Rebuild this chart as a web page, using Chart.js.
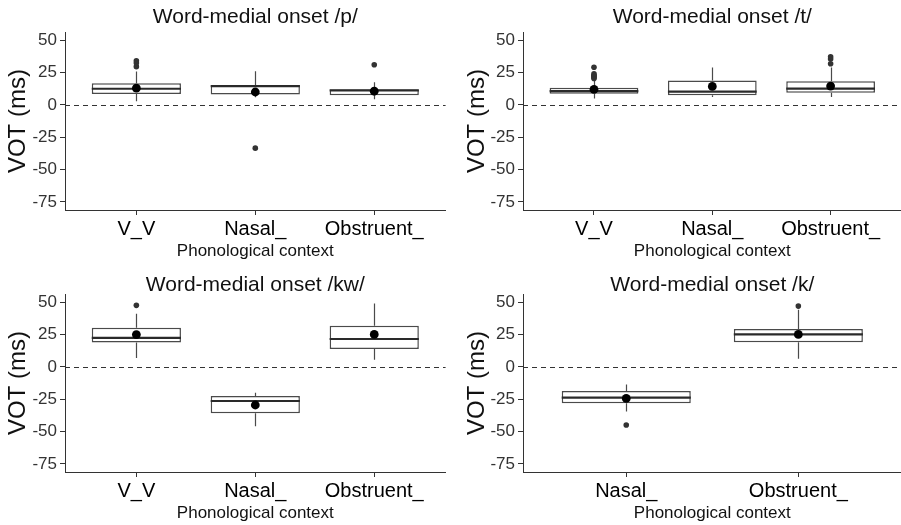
<!DOCTYPE html>
<html>
<head>
<meta charset="utf-8">
<script src="https://cdn.jsdelivr.net/npm/chart.js@4.4.1/dist/chart.umd.min.js"></script>
<style>
  html, body { margin: 0; padding: 0; background: #fff; overflow: hidden; width: 901px; height: 525px; }
  canvas { position: absolute; display: block; }
</style>
</head>
<body>
<canvas id="c1" width="450" height="262" style="left:0;top:0;width:450px;height:262px"></canvas>
<canvas id="c2" width="456" height="262" style="left:450px;top:0;width:456px;height:262px"></canvas>
<canvas id="c3" width="450" height="263" style="left:0;top:262px;width:450px;height:263px"></canvas>
<canvas id="c4" width="456" height="263" style="left:450px;top:262px;width:456px;height:263px"></canvas>
<script>
// ---------- data ----------
const TITLES = ['Word-medial onset /p/', 'Word-medial onset /t/', 'Word-medial onset /kw/', 'Word-medial onset /k/'];
const CATS_3 = ['V_V', 'Nasal_', 'Obstruent_'];
const CATS_K = ['Nasal_', 'Obstruent_'];
const Y_TICKS = [-75, -50, -25, 0, 25, 50];
const X_TITLE = 'Phonological context';
const Y_TITLE = 'VOT (ms)';

// /p/
const P_Q1   = [8.4, 8.0, 7.4];
const P_MED  = [12.5, 14.6, 11.2];
const P_Q3   = [16.8, 15.3, 12.0];
const P_LO   = [2.8, 6.0, 4.4];
const P_HI   = [25.8, 26.0, 17.6];
const P_MEAN = [13.0, 10.0, 10.6];
const P_OUT  = [[29.6, 32.4, 34.2], [-33.4], [31.1]];

// /t/
const T_Q1   = [8.7, 7.4, 9.5];
const T_MED  = [10.7, 10.3, 12.6];
const T_Q3   = [13.3, 18.9, 18.4];
const T_LO   = [4.9, 6.1, 6.1];
const T_HI   = [19.0, 29.0, 29.0];
const T_MEAN = [12.0, 14.3, 14.6];
const T_OUT  = [[20.5, 21.3, 22.1, 23.0, 24.0, 29.2], [], [31.9, 35.5, 37.3]];

// /kw/
const KW_Q1   = [18.8, -35.9, 13.8];
const KW_MED  = [22.4, -26.4, 21.5];
const KW_Q3   = [30.1, -22.6, 31.8];
const KW_LO   = [6.9, -46.0, 5.4];
const KW_HI   = [41.0, -20.0, 49.0];
const KW_MEAN = [24.9, -29.5, 25.0];
const KW_OUT  = [[47.5], [], []];

// /k/
const K_Q1   = [-28.2, 19.0];
const K_MED  = [-23.8, 25.0];
const K_Q3   = [-18.7, 29.2];
const K_LO   = [-34.6, 6.2];
const K_HI   = [-13.6, 44.0];
const K_MEAN = [-24.4, 25.0];
const K_OUT  = [[-44.9], [46.9]];

const Y_MIN = -81.25, Y_MAX = 56.25;

// ---------- drawing ----------
const FONT = "'Liberation Sans', Arial, Helvetica, sans-serif";
const AXIS_COLOR = '#333';
const BOX_COLOR = '#4a4a4a';

const boxParts = {
  id: 'boxParts',
  afterLayout(chart) {
    if (chart.titleBlock) {
      chart.titleBlock.left = chart.chartArea.left;
      chart.titleBlock.right = chart.chartArea.right;
    }
  },
  beforeDatasetsDraw(chart) {
    const { ctx, chartArea, scales: { y } } = chart;
    const py = Math.round(y.getPixelForValue(0)) + 0.5;
    ctx.save();
    ctx.setLineDash([5, 4]);
    ctx.strokeStyle = '#333';
    ctx.lineWidth = 1;
    ctx.beginPath();
    ctx.moveTo(chartArea.left, py);
    ctx.lineTo(chartArea.right, py);
    ctx.stroke();
    ctx.restore();
  },
  afterDatasetDraw(chart, args) {
    if (args.index !== 0) return;
    const ds = chart.data.datasets[0];
    const meta = chart.getDatasetMeta(0);
    const { ctx, scales: { x, y } } = chart;
    ctx.save();
    meta.data.forEach((el, i) => {
      const px = Math.round(x.getPixelForValue(i + 1)) + 0.5;
      const q1 = ds.data[i].y[0], q3 = ds.data[i].y[1];
      ctx.strokeStyle = BOX_COLOR;
      ctx.lineWidth = 1.2;
      ctx.beginPath();
      ctx.moveTo(px, y.getPixelForValue(ds.hi[i]));
      ctx.lineTo(px, y.getPixelForValue(q3));
      ctx.moveTo(px, y.getPixelForValue(q1));
      ctx.lineTo(px, y.getPixelForValue(ds.lo[i]));
      ctx.stroke();
      const props = el.getProps(['x', 'width'], true);
      const pm = y.getPixelForValue(ds.med[i]);
      ctx.strokeStyle = '#2a2a2a';
      ctx.lineWidth = 2.2;
      ctx.beginPath();
      ctx.moveTo(props.x - props.width / 2, pm);
      ctx.lineTo(props.x + props.width / 2, pm);
      ctx.stroke();
    });
    ctx.restore();
  }
};

function panel(id, title, cats, Q1, MED, Q3, LO, HI, MEAN, OUT, L) {
  const n = cats.length;
  const boxData = cats.map((c, i) => ({ x: i + 1, y: [Q1[i], Q3[i]] }));
  const meanData = cats.map((c, i) => ({ x: i + 1, y: MEAN[i] }));
  const outData = [];
  OUT.forEach((arr, i) => arr.forEach(v => outData.push({ x: i + 1, y: v })));
  new Chart(document.getElementById(id), {
    type: 'bar',
    data: {
      datasets: [
        { type: 'bar', data: boxData, med: MED, lo: LO, hi: HI,
          backgroundColor: '#fff', borderColor: BOX_COLOR, borderWidth: 1.5, borderSkipped: false,
          categoryPercentage: 1, barPercentage: 0.75, order: 3 },
        { type: 'scatter', data: outData, pointRadius: 2.8, backgroundColor: '#333',
          borderWidth: 0, order: 2 },
        { type: 'scatter', data: meanData, pointRadius: 4.4, backgroundColor: '#000',
          borderWidth: 0, order: 1 }
      ]
    },
    options: {
      responsive: false,
      animation: false,
      events: [],
      layout: { padding: { left: 0, right: L.padRight, top: 0, bottom: 0 } },
      plugins: {
        legend: { display: false },
        tooltip: { enabled: false },
        title: {
          display: true, text: title, color: '#111',
          font: { family: FONT, size: 21, weight: 'normal', lineHeight: 1.2 },
          padding: L.titlePad
        }
      },
      scales: {
        x: {
          type: 'linear', min: 0.4, max: n + 0.6, offset: false,
          afterBuildTicks: s => { s.ticks = cats.map((c, i) => ({ value: i + 1 })); },
          afterFit: s => { s.height = L.xHeight; },
          ticks: {
            autoSkip: false, maxRotation: 0, padding: 2, color: '#000',
            font: { family: FONT, size: 20 },
            callback: v => cats[Math.round(v) - 1]
          },
          grid: { offset: false, drawOnChartArea: false, drawTicks: true, tickLength: 5, color: AXIS_COLOR },
          border: { display: true, color: AXIS_COLOR, width: 1 },
          title: { display: true, text: X_TITLE, color: '#111',
                   font: { family: FONT, size: 17, lineHeight: 1.2 },
                   padding: { top: 0, bottom: L.xTitlePB } }
        },
        y: {
          type: 'linear', min: Y_MIN, max: Y_MAX,
          afterBuildTicks: s => { s.ticks = Y_TICKS.map(v => ({ value: v })); },
          afterFit: s => { s.width = L.yWidth; },
          ticks: { padding: 3, color: '#333', font: { family: FONT, size: 17 } },
          grid: { drawOnChartArea: false, drawTicks: true, tickLength: 5, color: AXIS_COLOR },
          border: { display: true, color: AXIS_COLOR, width: 1 },
          title: { display: true, text: Y_TITLE, color: '#111',
                   font: { family: FONT, size: 24, lineHeight: 1.2 },
                   padding: { top: L.yTitlePad, bottom: 0 } }
        }
      }
    },
    plugins: [boxParts]
  });
}

const TOP_L = { padRight: 2, yWidth: 65, yTitlePad: 4, titlePad: { top: 5, bottom: 2 }, xHeight: 52, xTitlePB: 0 };
const TOP_R = { padRight: 0, yWidth: 73, yTitlePad: 12.6, titlePad: { top: 5, bottom: 2 }, xHeight: 52, xTitlePB: 0 };
const BOT_L = { padRight: 2, yWidth: 65, yTitlePad: 4, titlePad: { top: 11, bottom: -4.2 }, xHeight: 53, xTitlePB: 1 };
const BOT_R = { padRight: 0, yWidth: 73, yTitlePad: 12.6, titlePad: { top: 11, bottom: -4.2 }, xHeight: 53, xTitlePB: 1 };

panel('c1', TITLES[0], CATS_3, P_Q1, P_MED, P_Q3, P_LO, P_HI, P_MEAN, P_OUT, TOP_L);
panel('c2', TITLES[1], CATS_3, T_Q1, T_MED, T_Q3, T_LO, T_HI, T_MEAN, T_OUT, TOP_R);
panel('c3', TITLES[2], CATS_3, KW_Q1, KW_MED, KW_Q3, KW_LO, KW_HI, KW_MEAN, KW_OUT, BOT_L);
panel('c4', TITLES[3], CATS_K, K_Q1, K_MED, K_Q3, K_LO, K_HI, K_MEAN, K_OUT, BOT_R);
</script>
</body>
</html>
